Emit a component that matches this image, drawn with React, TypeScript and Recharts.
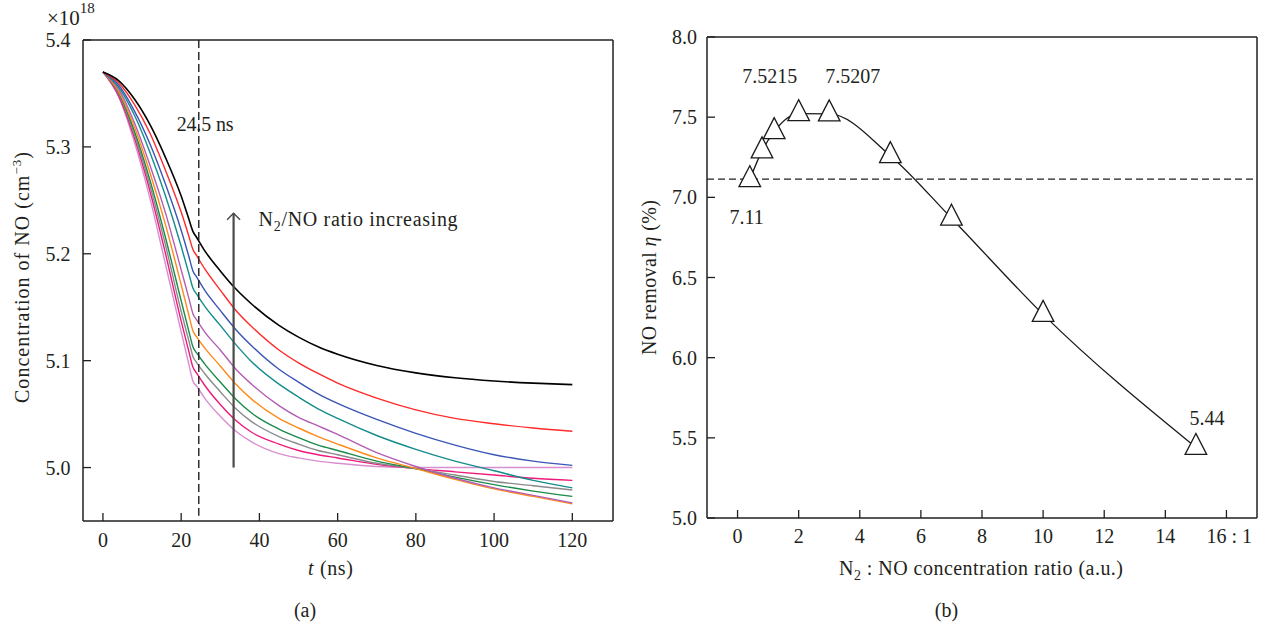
import React from 'react';
import { LineChart, Line, XAxis, YAxis, ReferenceLine, ReferenceDot } from 'recharts';

const FONT = '"Liberation Serif", "Times New Roman", Times, serif';
const INK = '#231f20';

// ---------- Panel (a): NO concentration vs time ----------
const timeNs = [0, 4, 8, 12, 16, 20, 22, 23, 24, 26, 30, 34, 38, 45, 50, 55, 60, 70, 80, 90, 100, 110, 120];
const curveBlack = [5.370, 5.362, 5.345, 5.321, 5.290, 5.254, 5.232, 5.221, 5.215, 5.203, 5.184, 5.167, 5.153, 5.133, 5.122, 5.113, 5.106, 5.0955, 5.0886, 5.084, 5.081, 5.079, 5.0776];
const curveRed = [5.370, 5.360, 5.340, 5.313, 5.278, 5.239, 5.216, 5.204, 5.198, 5.186, 5.166, 5.147, 5.132, 5.110, 5.098, 5.088, 5.079, 5.065, 5.054, 5.046, 5.041, 5.037, 5.034];
const curveBlue = [5.370, 5.358, 5.334, 5.303, 5.265, 5.222, 5.197, 5.184, 5.178, 5.166, 5.147, 5.129, 5.114, 5.092, 5.080, 5.069, 5.060, 5.045, 5.032, 5.021, 5.012, 5.006, 5.002];
const curveTeal = [5.370, 5.356, 5.330, 5.295, 5.254, 5.207, 5.181, 5.168, 5.162, 5.151, 5.133, 5.115, 5.099, 5.078, 5.066, 5.055, 5.046, 5.030, 5.017, 5.006, 4.997, 4.988, 4.981];
const curvePurple = [5.370, 5.354, 5.323, 5.283, 5.238, 5.185, 5.158, 5.144, 5.138, 5.127, 5.110, 5.092, 5.078, 5.058, 5.047, 5.039, 5.031, 5.014, 5.001, 4.990, 4.981, 4.974, 4.967];
const curveOrange = [5.370, 5.352, 5.319, 5.276, 5.227, 5.171, 5.142, 5.128, 5.122, 5.112, 5.095, 5.078, 5.064, 5.046, 5.037, 5.029, 5.022, 5.009, 4.999, 4.989, 4.980, 4.973, 4.966];
const curveGreen = [5.370, 5.351, 5.315, 5.269, 5.215, 5.156, 5.127, 5.113, 5.107, 5.097, 5.080, 5.064, 5.051, 5.036, 5.028, 5.021, 5.016, 5.006, 4.999, 4.991, 4.984, 4.978, 4.973];
const curveGray = [5.370, 5.350, 5.312, 5.264, 5.208, 5.146, 5.118, 5.104, 5.098, 5.088, 5.071, 5.055, 5.043, 5.029, 5.022, 5.016, 5.012, 5.004, 4.999, 4.993, 4.987, 4.983, 4.979];
const curveDeepPink = [5.370, 5.348, 5.309, 5.259, 5.200, 5.137, 5.108, 5.094, 5.088, 5.077, 5.059, 5.044, 5.033, 5.022, 5.016, 5.012, 5.009, 5.003, 4.999, 4.996, 4.993, 4.990, 4.988];
const curveLightPink = [5.370, 5.347, 5.305, 5.252, 5.190, 5.127, 5.096, 5.081, 5.076, 5.065, 5.048, 5.034, 5.024, 5.013, 5.009, 5.006, 5.004, 5.001, 5.000, 5.000, 5.000, 5.000, 5.000];

const curveKeys = ['lightpink', 'deeppink', 'gray', 'green', 'orange', 'purple', 'teal', 'blue', 'red', 'black'];
const curveColors = ['#d88ecf', '#ee1a7b', '#8a8a8a', '#1b8a4a', '#ff8a1a', '#b35db3', '#148c8c', '#3a55b4', '#ff2a2a', '#000000'];
const curveValues = [curveLightPink, curveDeepPink, curveGray, curveGreen, curveOrange, curvePurple, curveTeal, curveBlue, curveRed, curveBlack];

const timeTicks = [0, 20, 40, 60, 80, 100, 120];
const concTicks = [5.0, 5.1, 5.2, 5.3, 5.4];
const timeDomain = [-5.1, 130.4];
const concDomain = [4.95, 5.4];
const markerTime = 24.5;
const arrowTime = 33.4;
const arrowFrom = 5.0;
const arrowTo = 5.238;

const panelAData = timeNs.map((t, i) => {
  const row: Record<string, number> = { t };
  curveKeys.forEach((k, j) => {
    row[k] = curveValues[j][i];
  });
  return row;
});

// ---------- Panel (b): NO removal vs N2:NO ratio ----------
const ratioValues = [0.4, 0.8, 1.2, 2, 3, 5, 7, 10, 15];
const removalValues = [7.11, 7.29, 7.41, 7.5215, 7.5207, 7.26, 6.87, 6.27, 5.44];
const ratioTicks = [0, 2, 4, 6, 8, 10, 12, 14, 16];
const removalTicks = [5.0, 5.5, 6.0, 6.5, 7.0, 7.5, 8.0];
const baselineRemoval = 7.114;
const annoText = ['7.5215', '7.5207', '7.11', '5.44'];
const annoX = [1.05, 3.77, 0.3, 15.36];
const annoY = [7.71, 7.71, 6.833, 5.581];

const panelBData = ratioValues.map((r, i) => ({ r, eta: removalValues[i] }));

const axisLine = { stroke: INK, strokeWidth: 1.5 };
const tickLine = { stroke: INK, strokeWidth: 1.3 };
const tickStyle = { fill: INK, fontSize: 20, fontFamily: FONT };

const TriangleDot = (props: any) => {
  const { cx, cy, index } = props;
  if (cx == null || cy == null) return null;
  const h = 21;
  const hw = 10.8;
  const pts = `${cx},${cy - (2 * h) / 3} ${cx - hw},${cy + h / 3} ${cx + hw},${cy + h / 3}`;
  return <polygon key={`tri-${index}`} points={pts} fill="#ffffff" stroke="#1a1a1a" strokeWidth={1.3} />;
};

const ArrowShape = (props: any) => {
  const { x1, y1, y2 } = props;
  const top = Math.min(y1, y2);
  const bottom = Math.max(y1, y2);
  return (
    <g>
      <line x1={x1} y1={bottom} x2={x1} y2={top} stroke="#4a4a4a" strokeWidth={2.2} />
      <polyline points={`${x1 - 6.5},${top + 6.5} ${x1},${top} ${x1 + 6.5},${top + 6.5}`} fill="none" stroke="#4a4a4a" strokeWidth={1.4} />
    </g>
  );
};

const textAt = (content: React.ReactNode, anchor: string = 'middle', length?: number) => (p: any) => (
  <text x={p.cx} y={p.cy} textAnchor={anchor} fontSize={20} fontFamily={FONT} fill={INK}
    textLength={length} lengthAdjust={length ? 'spacing' : undefined}>
    {content}
  </text>
);

const RatioTick = (props: any) => {
  const { x, y, payload } = props;
  const v = payload.value;
  if (v === 16) {
    return (
      <text x={x - 20} y={y} dy="0.71em" textAnchor="start" fontSize={20} fontFamily={FONT} fill={INK}>
        16 : 1
      </text>
    );
  }
  return (
    <text x={x} y={y} dy="0.71em" textAnchor="middle" fontSize={20} fontFamily={FONT} fill={INK}>
      {v}
    </text>
  );
};

export default function App() {
  return (
    <div style={{ position: 'absolute', left: 0, top: 0, width: 1272, height: 627, background: '#ffffff', fontFamily: FONT }}>
      <div style={{ position: 'absolute', left: 0, top: 0 }}>
        <LineChart width={640} height={627} data={panelAData} margin={{ top: 39, right: 26, bottom: 105, left: 82 }}>
          <XAxis dataKey="t" type="number" domain={timeDomain} ticks={timeTicks} interval={0} allowDataOverflow height={1}
            tickSize={-8} tickMargin={20} axisLine={axisLine} tickLine={tickLine} tick={tickStyle} />
          <XAxis xAxisId="top" orientation="top" dataKey="t" type="number" domain={timeDomain} allowDataOverflow height={1}
            tick={false} tickLine={false} axisLine={axisLine} />
          <YAxis type="number" domain={concDomain} ticks={concTicks} interval={0} allowDataOverflow width={1}
            tickSize={-8} tickMargin={20.6} tickFormatter={(v: number) => v.toFixed(1)} axisLine={axisLine} tickLine={tickLine} tick={tickStyle} />
          <YAxis yAxisId="right" orientation="right" type="number" domain={concDomain} allowDataOverflow width={1}
            tick={false} tickLine={false} axisLine={axisLine} />
          {curveKeys.map((k, j) => (
            <Line key={k} dataKey={k} type="monotone" stroke={curveColors[j]} strokeWidth={k === 'black' ? 1.6 : 1.4}
              dot={false} activeDot={false} isAnimationActive={false} />
          ))}
          <ReferenceLine segment={[{ x: markerTime, y: 5.4 }, { x: markerTime, y: 4.955 }]} stroke={INK} strokeWidth={1.4}
            strokeDasharray="8 4" ifOverflow="visible" />
          <ReferenceLine segment={[{ x: arrowTime, y: arrowFrom }, { x: arrowTime, y: arrowTo }]} shape={ArrowShape} ifOverflow="visible" />
          <ReferenceDot x={18.84} y={5.315} r={0} ifOverflow="visible" shape={textAt('24.5 ns', 'start', 57)} />
          <ReferenceDot x={39.8} y={5.226} r={0} ifOverflow="visible"
            shape={textAt(<>N<tspan dy={5} fontSize={14}>2</tspan><tspan dy={-5}>/NO ratio increasing</tspan></>, 'start', 199)} />
        </LineChart>
      </div>

      <div style={{ position: 'absolute', left: 640, top: 0 }}>
        <LineChart width={632} height={627} data={panelBData} margin={{ top: 36, right: 14, bottom: 108, left: 66 }}>
          <XAxis dataKey="r" type="number" domain={[-1, 17]} ticks={ratioTicks} interval={0} allowDataOverflow height={1}
            tickSize={-8} tickMargin={19} axisLine={axisLine} tickLine={tickLine} tick={RatioTick} />
          <XAxis xAxisId="top" orientation="top" dataKey="r" type="number" domain={[-1, 17]} allowDataOverflow height={1}
            tick={false} tickLine={false} axisLine={axisLine} />
          <YAxis type="number" domain={[5, 8]} ticks={removalTicks} interval={0} allowDataOverflow width={1}
            tickSize={-8} tickMargin={18} tickFormatter={(v: number) => v.toFixed(1)} axisLine={axisLine} tickLine={tickLine} tick={tickStyle} />
          <YAxis yAxisId="right" orientation="right" type="number" domain={[5, 8]} allowDataOverflow width={1}
            tick={false} tickLine={false} axisLine={axisLine} />
          <ReferenceLine y={baselineRemoval} stroke={INK} strokeWidth={1.3} strokeDasharray="7 4" />
          <Line dataKey="eta" type="monotone" stroke="#1a1a1a" strokeWidth={1.3} dot={TriangleDot} activeDot={false}
            isAnimationActive={false} />
          {annoText.map((s, i) => (
            <ReferenceDot key={s} x={annoX[i]} y={annoY[i]} r={0} ifOverflow="visible" shape={textAt(s, 'middle')} />
          ))}
        </LineChart>
      </div>

      <svg width={1272} height={627} style={{ position: 'absolute', left: 0, top: 0, pointerEvents: 'none' }}
        fontFamily={FONT} fill={INK}>
        <text x={47} y={25} fontSize={21}>×10<tspan dy={-12} fontSize={15}>18</tspan></text>
        <text transform="translate(29,277.5) rotate(-90)" textAnchor="middle" fontSize={20} textLength={251} lengthAdjust="spacing">
          Concentration of NO (cm<tspan dy={-8} fontSize={13}>−3</tspan><tspan dy={8}>)</tspan>
        </text>
        <text x={308} y={575} fontSize={20} textLength={45} lengthAdjust="spacing"><tspan fontStyle="italic">t</tspan> (ns)</text>
        <text x={305} y={617} textAnchor="middle" fontSize={20}>(a)</text>
        <text transform="translate(656,277.5) rotate(-90)" textAnchor="middle" fontSize={20} textLength={155} lengthAdjust="spacing">
          NO removal <tspan fontStyle="italic">η</tspan> (%)
        </text>
        <text x={839} y={575} fontSize={20} textLength={284} lengthAdjust="spacing">
          N<tspan dy={5} fontSize={14}>2</tspan><tspan dy={-5}> : NO concentration ratio (a.u.)</tspan>
        </text>
        <text x={946.5} y={617} textAnchor="middle" fontSize={20}>(b)</text>
      </svg>
    </div>
  );
}
